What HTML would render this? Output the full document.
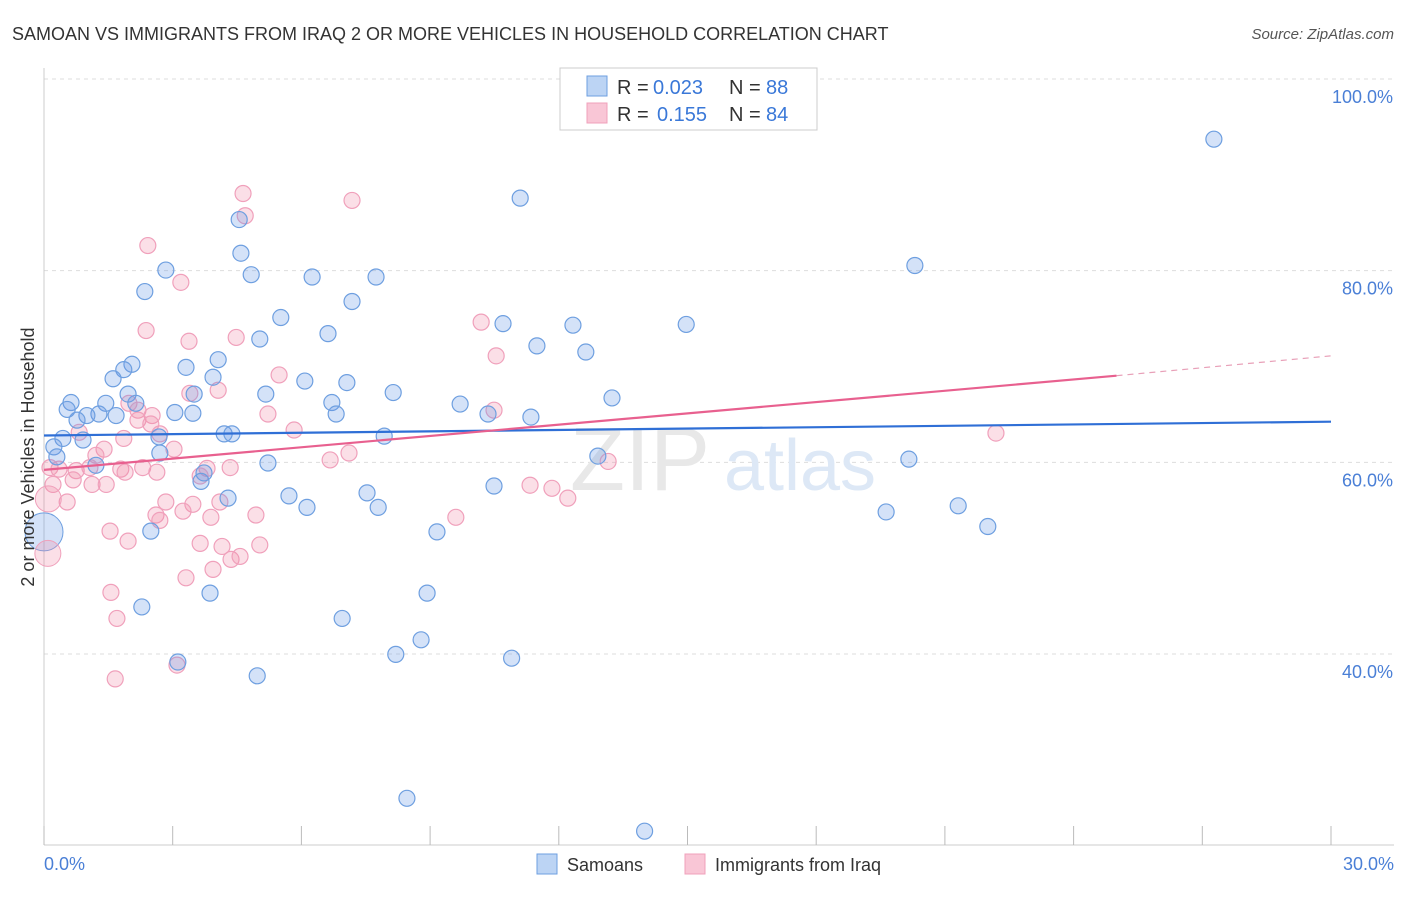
<!DOCTYPE html>
<html><head><meta charset="utf-8"><style>
body{margin:0;background:#fff;font-family:"Liberation Sans",sans-serif;}
svg text{font-family:"Liberation Sans",sans-serif;}
</style></head><body>
<svg id="chart" width="1406" height="892" xmlns="http://www.w3.org/2000/svg">
<text x="12" y="40" font-size="18" fill="#333">SAMOAN VS IMMIGRANTS FROM IRAQ 2 OR MORE VEHICLES IN HOUSEHOLD CORRELATION CHART</text>
<text x="1394" y="39" font-size="15" fill="#555" font-style="italic" text-anchor="end">Source: ZipAtlas.com</text>
<g id="grid"></g>
<text x="640" y="490" font-size="90" fill="#e8e8e8" text-anchor="middle" font-family="Liberation Serif">ZIP</text>
<text x="800" y="490" font-size="72" fill="#dde8f6" text-anchor="middle">atlas</text>
<g id="pts"></g>
<g id="lines"></g>
<text transform="translate(34,457) rotate(-90)" font-size="18" fill="#333" text-anchor="middle">2 or more Vehicles in Household</text>
<text x="44" y="870" font-size="18" fill="#4a7fd6">0.0%</text>
<text x="1394" y="870" font-size="18" fill="#4a7fd6" text-anchor="end">30.0%</text>
<g>
<rect x="560" y="68" width="257" height="62" fill="#fff" stroke="#ccc"/>
<rect x="587" y="76" width="20" height="20" fill="#bcd4f4" stroke="#6e9fe0"/>
<rect x="587" y="103" width="20" height="20" fill="#f9c6d6" stroke="#f0a0bb"/>
<text x="617" y="94" font-size="20" fill="#333">R =</text>
<text x="653" y="94" font-size="20" fill="#3a78d8">0.023</text>
<text x="729" y="94" font-size="20" fill="#333">N =</text>
<text x="766" y="94" font-size="20" fill="#3a78d8">88</text>
<text x="617" y="121" font-size="20" fill="#333">R =</text>
<text x="657" y="121" font-size="20" fill="#3a78d8">0.155</text>
<text x="729" y="121" font-size="20" fill="#333">N =</text>
<text x="766" y="121" font-size="20" fill="#3a78d8">84</text>
</g>
<g>
<rect x="537" y="854" width="20" height="20" fill="#bcd4f4" stroke="#6e9fe0"/>
<text x="567" y="871" font-size="18" fill="#333">Samoans</text>
<rect x="685" y="854" width="20" height="20" fill="#f9c6d6" stroke="#f0a0bb"/>
<text x="715" y="871" font-size="18" fill="#333">Immigrants from Iraq</text>
</g>
</svg>
<script>
const yTicks=[40,60,80,100];
const yTickLabels=["40.0%","60.0%","80.0%","100.0%"];
const xTicks=[0,3,6,9,12,15,18,21,24,27,30];
const blueX=[27.27,11.1,20.3,4.55,4.59,4.83,2.84,2.35,6.25,7.74,7.18,5.52,10.7,12.33,14.97,6.62,5.03,11.49,12.63,4.06,2.05,3.31,1.86,1.61,3.94,6.08,7.06,8.14,5.17,3.5,1.96,0.63,1.44,2.14,9.7,13.24,6.71,0.54,1.28,1.0,1.68,3.05,3.47,10.35,6.81,11.35,0.77,0.44,2.68,4.2,4.38,7.93,0.91,0.23,2.7,0.3,12.91,20.16,1.21,5.22,3.73,3.66,10.49,4.29,5.71,7.53,6.13,7.79,19.63,21.31,22.0,2.49,9.16,3.87,2.28,8.93,6.95,8.79,8.2,10.9,3.12,4.97,8.46,14.0];
const blueY=[93.72,87.57,80.54,85.33,81.82,79.58,80.06,77.82,79.34,79.34,76.78,75.11,74.47,74.31,74.39,73.43,72.87,72.15,71.51,70.71,70.23,69.91,69.67,68.72,68.88,68.48,68.32,67.28,67.12,67.12,67.12,66.24,66.16,66.16,66.08,66.72,66.24,65.52,65.04,64.88,64.88,65.2,65.12,65.04,65.04,64.72,64.4,62.49,62.65,62.97,62.97,62.73,62.33,61.61,60.97,60.57,60.65,60.33,59.69,59.93,58.89,58.01,57.53,56.26,56.5,56.81,55.3,55.3,54.82,55.46,53.3,52.82,52.74,46.35,44.91,46.35,43.71,41.48,39.96,39.56,39.16,37.72,24.94,21.51];
const pinkX=[4.64,7.18,4.69,2.42,3.19,10.19,2.38,4.48,3.38,10.54,5.48,3.4,4.06,1.98,2.19,2.52,2.19,10.49,5.22,2.49,5.83,0.82,1.86,2.7,22.19,1.4,1.21,3.03,7.11,6.67,13.15,0.14,0.75,0.35,1.07,1.79,1.89,2.3,2.63,3.8,4.34,3.64,0.68,1.12,1.45,0.21,11.33,11.84,0.54,12.21,2.84,3.47,4.1,3.24,2.61,2.7,3.89,4.94,9.6,1.54,1.96,3.64,4.15,5.03,4.36,3.94,3.31,1.56,1.7,3.1,1.66,4.57];
const pinkY=[88.05,87.33,85.73,82.62,78.78,74.63,73.75,73.03,72.63,71.11,69.12,67.2,67.52,66.16,65.44,64.88,64.4,65.44,65.04,64.0,63.37,63.13,62.49,62.97,63.05,61.37,60.73,61.37,60.97,60.25,60.09,59.45,59.13,59.29,59.45,59.29,58.97,59.45,58.97,59.37,59.45,58.57,58.17,57.69,57.69,57.69,57.61,57.29,55.86,56.26,55.86,55.62,55.86,54.9,54.5,53.94,54.26,54.5,54.26,52.82,51.78,51.54,51.22,51.38,49.87,48.83,47.95,46.43,43.71,38.84,37.4,50.18];
const bigBlue=[[0,52.74]], bigPink=[[0.1,56.18],[0.09,50.5]];
const blueLine=[[0,62.8],[30,64.24]];
const pinkLine=[[0,59.21],[25,69.04],[30,71.11]];
const X=v=>44+v*42.9, Y=v=>79+(100-v)*9.583;
const NS="http://www.w3.org/2000/svg";
function mk(p,t,a){const e=document.createElementNS(NS,t);for(const k in a)e.setAttribute(k,a[k]);p.appendChild(e);return e;}
const g=document.getElementById('grid');
yTicks.forEach((v,i)=>{const l=mk(g,'line',{x1:44,x2:1394,y1:Y(v),y2:Y(v),stroke:'#ddd','stroke-dasharray':'4,4'});


const t=mk(g,'text',{x:1393,y:Y(v)+24,'font-size':18,fill:'#4a7fd6','text-anchor':'end'});t.textContent=yTickLabels[i];

});
const ax=mk(g,'line',{x1:44,x2:1394,y1:845,y2:845,stroke:'#ccc'});


const ay=mk(g,'line',{x1:44,x2:44,y1:68,y2:845,stroke:'#ccc'});


xTicks.forEach(v=>{const l=mk(g,'line',{x1:X(v),x2:X(v),y1:826,y2:845,stroke:'#bbb'});

});
const P=document.getElementById('pts');
pinkX.forEach((x,i)=>{const c=mk(P,'circle',{cx:X(x),cy:Y(pinkY[i]),r:8,fill:'rgba(240,140,170,0.28)',stroke:'#f0a0bb','stroke-width':1.2});

});
blueX.forEach((x,i)=>{const c=mk(P,'circle',{cx:X(x),cy:Y(blueY[i]),r:8,fill:'rgba(100,150,230,0.28)',stroke:'#6e9fe0','stroke-width':1.2});

});
bigBlue.forEach(p=>{const c=mk(P,'circle',{cx:X(p[0]),cy:Y(p[1]),r:19,fill:'rgba(100,150,230,0.28)',stroke:'#6e9fe0'});

});
bigPink.forEach(p=>{const c=mk(P,'circle',{cx:X(p[0]),cy:Y(p[1]),r:13,fill:'rgba(240,140,170,0.28)',stroke:'#f0a0bb'});

});
const L=document.getElementById('lines');
const bl=mk(L,'line',{x1:X(blueLine[0][0]),y1:Y(blueLine[0][1]),x2:X(blueLine[1][0]),y2:Y(blueLine[1][1]),stroke:'#2f6fd6','stroke-width':2.2});


const pl=mk(L,'line',{x1:X(pinkLine[0][0]),y1:Y(pinkLine[0][1]),x2:X(pinkLine[1][0]),y2:Y(pinkLine[1][1]),stroke:'#e8608f','stroke-width':2.2});


const pd=mk(L,'line',{x1:X(pinkLine[1][0]),y1:Y(pinkLine[1][1]),x2:X(pinkLine[2][0]),y2:Y(pinkLine[2][1]),stroke:'#e8a0b8','stroke-width':1.2,'stroke-dasharray':'6,5'});


</script>
</body></html>
